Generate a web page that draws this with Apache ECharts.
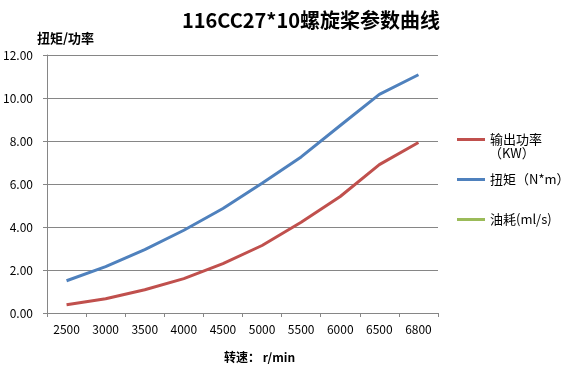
<!DOCTYPE html>
<html>
<head>
<meta charset="utf-8">
<script src="https://cdn.jsdelivr.net/npm/echarts@6/dist/echarts.min.js"></script>
<style>
  html, body { margin: 0; padding: 0; background: #fff; }
  #chart { width: 563px; height: 377px; }
</style>
</head>
<body>
<div id="chart"></div>
<script>
// 转速 r/min
var speeds = ['2500', '3000', '3500', '4000', '4500', '5000', '5500', '6000', '6500', '6800']
// 输出功率 KW
var power = [0.38, 0.66, 1.08, 1.60, 2.30, 3.14, 4.22, 5.42, 6.90, 7.93]
// 扭矩 N*m
var torque = [1.50, 2.16, 2.95, 3.85, 4.86, 6.04, 7.26, 8.72, 10.17, 11.08]
// 油耗 ml/s (无数据)
var fuel = []

var chart = echarts.init(document.getElementById('chart'))
var font = '"Noto Sans CJK SC", "Microsoft YaHei", sans-serif'

// 图例公共样式
function legendAt(name, top) {
    return {
        orient: 'vertical',
        left: 452,
        top: top,
        icon: 'rect',
        itemWidth: 28,
        itemHeight: 3,
        textStyle: { fontSize: 13, color: '#000', fontFamily: font },
        data: [name]
    }
}

var option = {
    animation: false,
    textStyle: { fontFamily: font },
    title: {
        text: '116CC27*10螺旋桨参数曲线',
        left: 306,
        top: 5,
        textAlign: 'center',
        textStyle: { fontSize: 20, fontWeight: 'bold', color: '#000', fontFamily: font }
    },
    grid: { left: 47, top: 55, right: 125, bottom: 64 },
    legend: [
        legendAt('输出功率', 128),
        legendAt('扭矩（N*m）', 168),
        legendAt('油耗(ml/s)', 208)
    ],
    // 功率单位换行显示
    graphic: [{
        type: 'text',
        left: 489,
        top: 147,
        style: { text: '（KW）', fontSize: 13, fill: '#000', fontFamily: font }
    }],
    xAxis: {
        type: 'category',
        data: speeds,
        boundaryGap: true,
        name: '转速： r/min',
        nameLocation: 'middle',
        nameGap: 38,
        nameTextStyle: { fontSize: 12, fontWeight: 'bold', color: '#000', padding: [0, 0, 0, 34] },
        axisLine: { lineStyle: { color: '#868686', width: 1 } },
        axisTick: { show: true, length: 4, lineStyle: { color: '#868686' } },
        axisLabel: { color: '#000', fontSize: 12, margin: 10 },
        splitLine: { show: false }
    },
    yAxis: {
        type: 'value',
        min: 0,
        max: 12,
        interval: 2,
        name: '扭矩/功率',
        nameGap: 10,
        nameTextStyle: { fontSize: 13, fontWeight: 'bold', color: '#000', align: 'left', padding: [0, 0, 0, -10] },
        axisLine: { show: true, lineStyle: { color: '#868686', width: 1 } },
        axisTick: { show: true, length: 4, lineStyle: { color: '#868686' } },
        axisLabel: {
            color: '#000', fontSize: 12, margin: 14,
            formatter: function (v) { return v.toFixed(2) }
        },
        splitLine: { show: true, lineStyle: { color: '#868686', width: 1 } }
    },
    series: [
        {
            name: '输出功率', type: 'line', data: power,
            showSymbol: false, symbol: 'none',
            lineStyle: { color: '#C0504D', width: 3 },
            itemStyle: { color: '#C0504D' }
        },
        {
            name: '扭矩（N*m）', type: 'line', data: torque,
            showSymbol: false, symbol: 'none',
            lineStyle: { color: '#4F81BD', width: 3 },
            itemStyle: { color: '#4F81BD' }
        },
        {
            name: '油耗(ml/s)', type: 'line', data: fuel,
            showSymbol: false, symbol: 'none',
            lineStyle: { color: '#9BBB59', width: 3 },
            itemStyle: { color: '#9BBB59' }
        }
    ]
}

chart.setOption(option)
window.addEventListener('resize', chart.resize)
</script>
</body>
</html>
